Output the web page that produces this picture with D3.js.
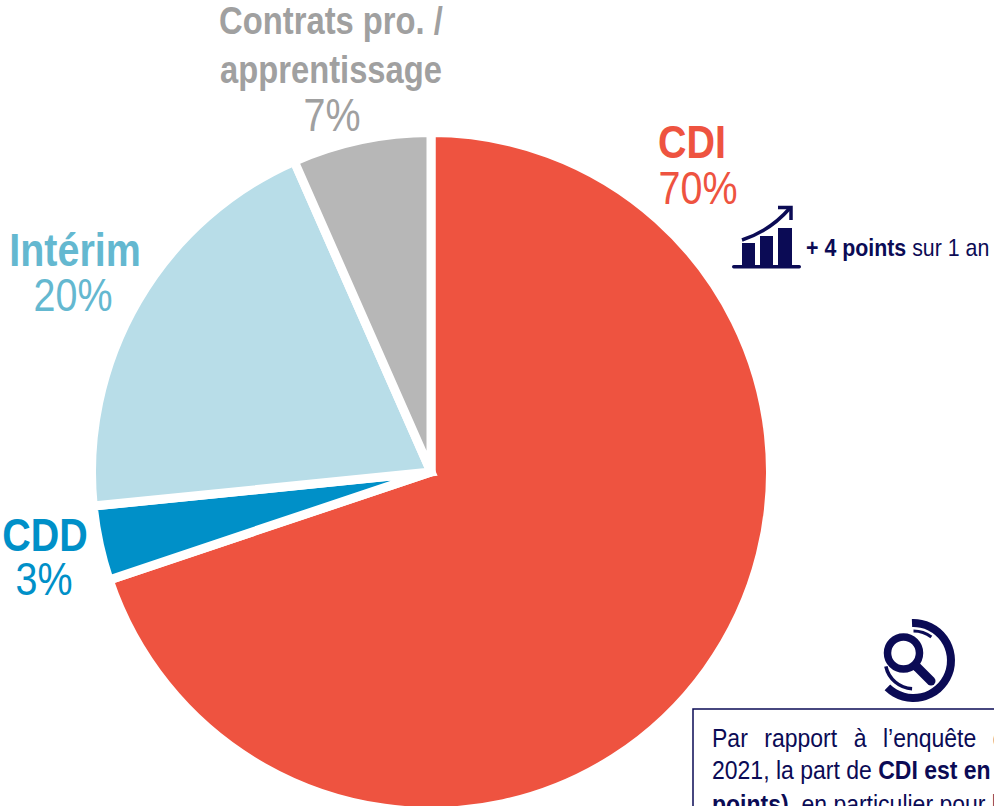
<!DOCTYPE html>
<html><head><meta charset="utf-8">
<script src="https://cdn.jsdelivr.net/npm/d3@7"></script>
<style>html,body{margin:0;padding:0;background:#fff;overflow:hidden}svg{display:block}
text{font-family:"Liberation Sans",sans-serif}</style></head><body>
<script>
const categories=["CDI","CDD","Intérim","Contrats pro. / apprentissage"];
const values=[69.85,3.55,20,6.6];
const percentLabels=["70%","3%","20%","7%"];
const colors=["#EE5340","#0090C8","#B8DDE8","#B7B7B7"];
const labelColors=["#EE5340","#0090C8","#64B8D0","#A0A0A0"];
const navy="#0B0B55";
const W=994,H=806,cx=431,cy=472,R=339.5;
const SX=0.84;
const svg=d3.select("body").append("svg").attr("width",W).attr("height",H);
const pie=d3.pie().sort(null).value(d=>d)(values);
const arc=d3.arc().innerRadius(0).outerRadius(R);
svg.append("g").attr("transform",`translate(${cx},${cy})`).selectAll("path").data(pie).join("path")
 .attr("d",arc).attr("fill",(d,i)=>colors[i]).attr("stroke","#fff").attr("stroke-width",9).attr("stroke-linejoin","miter");

function put(t,x,y,size,bold,fill,sx){
 return svg.append("text").attr("transform",`translate(${x},${y}) scale(${sx||SX},1)`).attr("text-anchor","middle")
  .attr("font-size",size).attr("font-weight",bold?"bold":"normal").attr("fill",fill).text(t);
}
put(categories[0],692,158,47,true,labelColors[0]);
put(percentLabels[0],698,204,47,false,labelColors[0]);
put(categories[1],45,551,47,true,labelColors[1]);
put(percentLabels[1],44,595,47,false,labelColors[1]);
put(categories[2],75,266,47,true,labelColors[2]);
put(percentLabels[2],73,311,47,false,labelColors[2]);
put("Contrats pro. /",331,34,39,true,labelColors[3]);
put("apprentissage",331,83,39,true,labelColors[3]);
put(percentLabels[3],332,131,47,false,labelColors[3]);

// trend icon
const ic=svg.append("g").attr("fill",navy);
[[742,243,13,24],[760,236,13,31],[778,228,14,39]].forEach(b=>ic.append("rect").attr("x",b[0]).attr("y",b[1]).attr("width",b[2]).attr("height",b[3]));
ic.append("rect").attr("x",732).attr("y",265).attr("width",69).attr("height",3.5).attr("rx",1.7);
ic.append("path").attr("d","M742 240Q770 231 790 208").attr("fill","none").attr("stroke",navy).attr("stroke-width",3.5);
ic.append("path").attr("d","M778 207.5H791V220").attr("fill","none").attr("stroke",navy).attr("stroke-width",3.5);
const t1=svg.append("text").attr("transform","translate(806,256) scale(0.89,1)").attr("font-size",24).attr("fill",navy);
t1.append("tspan").attr("font-weight","bold").text("+ 4 points");
t1.append("tspan").text(" sur 1 an");

// magnifier icon
const m=svg.append("g").attr("fill","none").attr("stroke",navy);
m.append("circle").attr("cx",903.5).attr("cy",653).attr("r",16).attr("stroke-width",7.5);
m.append("line").attr("x1",917).attr("y1",667).attr("x2",931).attr("y2",681).attr("stroke-width",9).attr("stroke-linecap","round");
const ring=d3.arc();
const mg=svg.append("g").attr("transform","translate(913.5,660.5)").attr("fill",navy);
mg.append("path").attr("d",ring({innerRadius:33.5,outerRadius:41.5,startAngle:-0.04,endAngle:Math.PI+0.77}));
mg.append("path").attr("d",ring({innerRadius:26.5,outerRadius:30,startAngle:Math.PI+0.05,endAngle:Math.PI+1.36}));
mg.append("path").attr("d",ring({innerRadius:28,outerRadius:31,startAngle:0,endAngle:0.65}));

// note box
svg.append("rect").attr("x",693).attr("y",709).attr("width",400).attr("height",200).attr("fill","none").attr("stroke",navy).attr("stroke-width",1.5);
const l1=svg.append("text").attr("transform","translate(712,747) scale(0.92,1)").attr("font-size",25).attr("fill",navy).attr("word-spacing",11).text("Par rapport à l’enquête de");
const l2=svg.append("text").attr("transform","translate(712,779) scale(0.92,1)").attr("font-size",25).attr("fill",navy);
l2.append("tspan").text("2021, la part de ");
l2.append("tspan").attr("font-weight","bold").text("CDI est en hausse");
const l3=svg.append("text").attr("transform","translate(712,813) scale(0.92,1)").attr("font-size",25).attr("fill",navy);
l3.append("tspan").attr("font-weight","bold").text("points),");
l3.append("tspan").text(" en particulier pour les");
</script></body></html>
